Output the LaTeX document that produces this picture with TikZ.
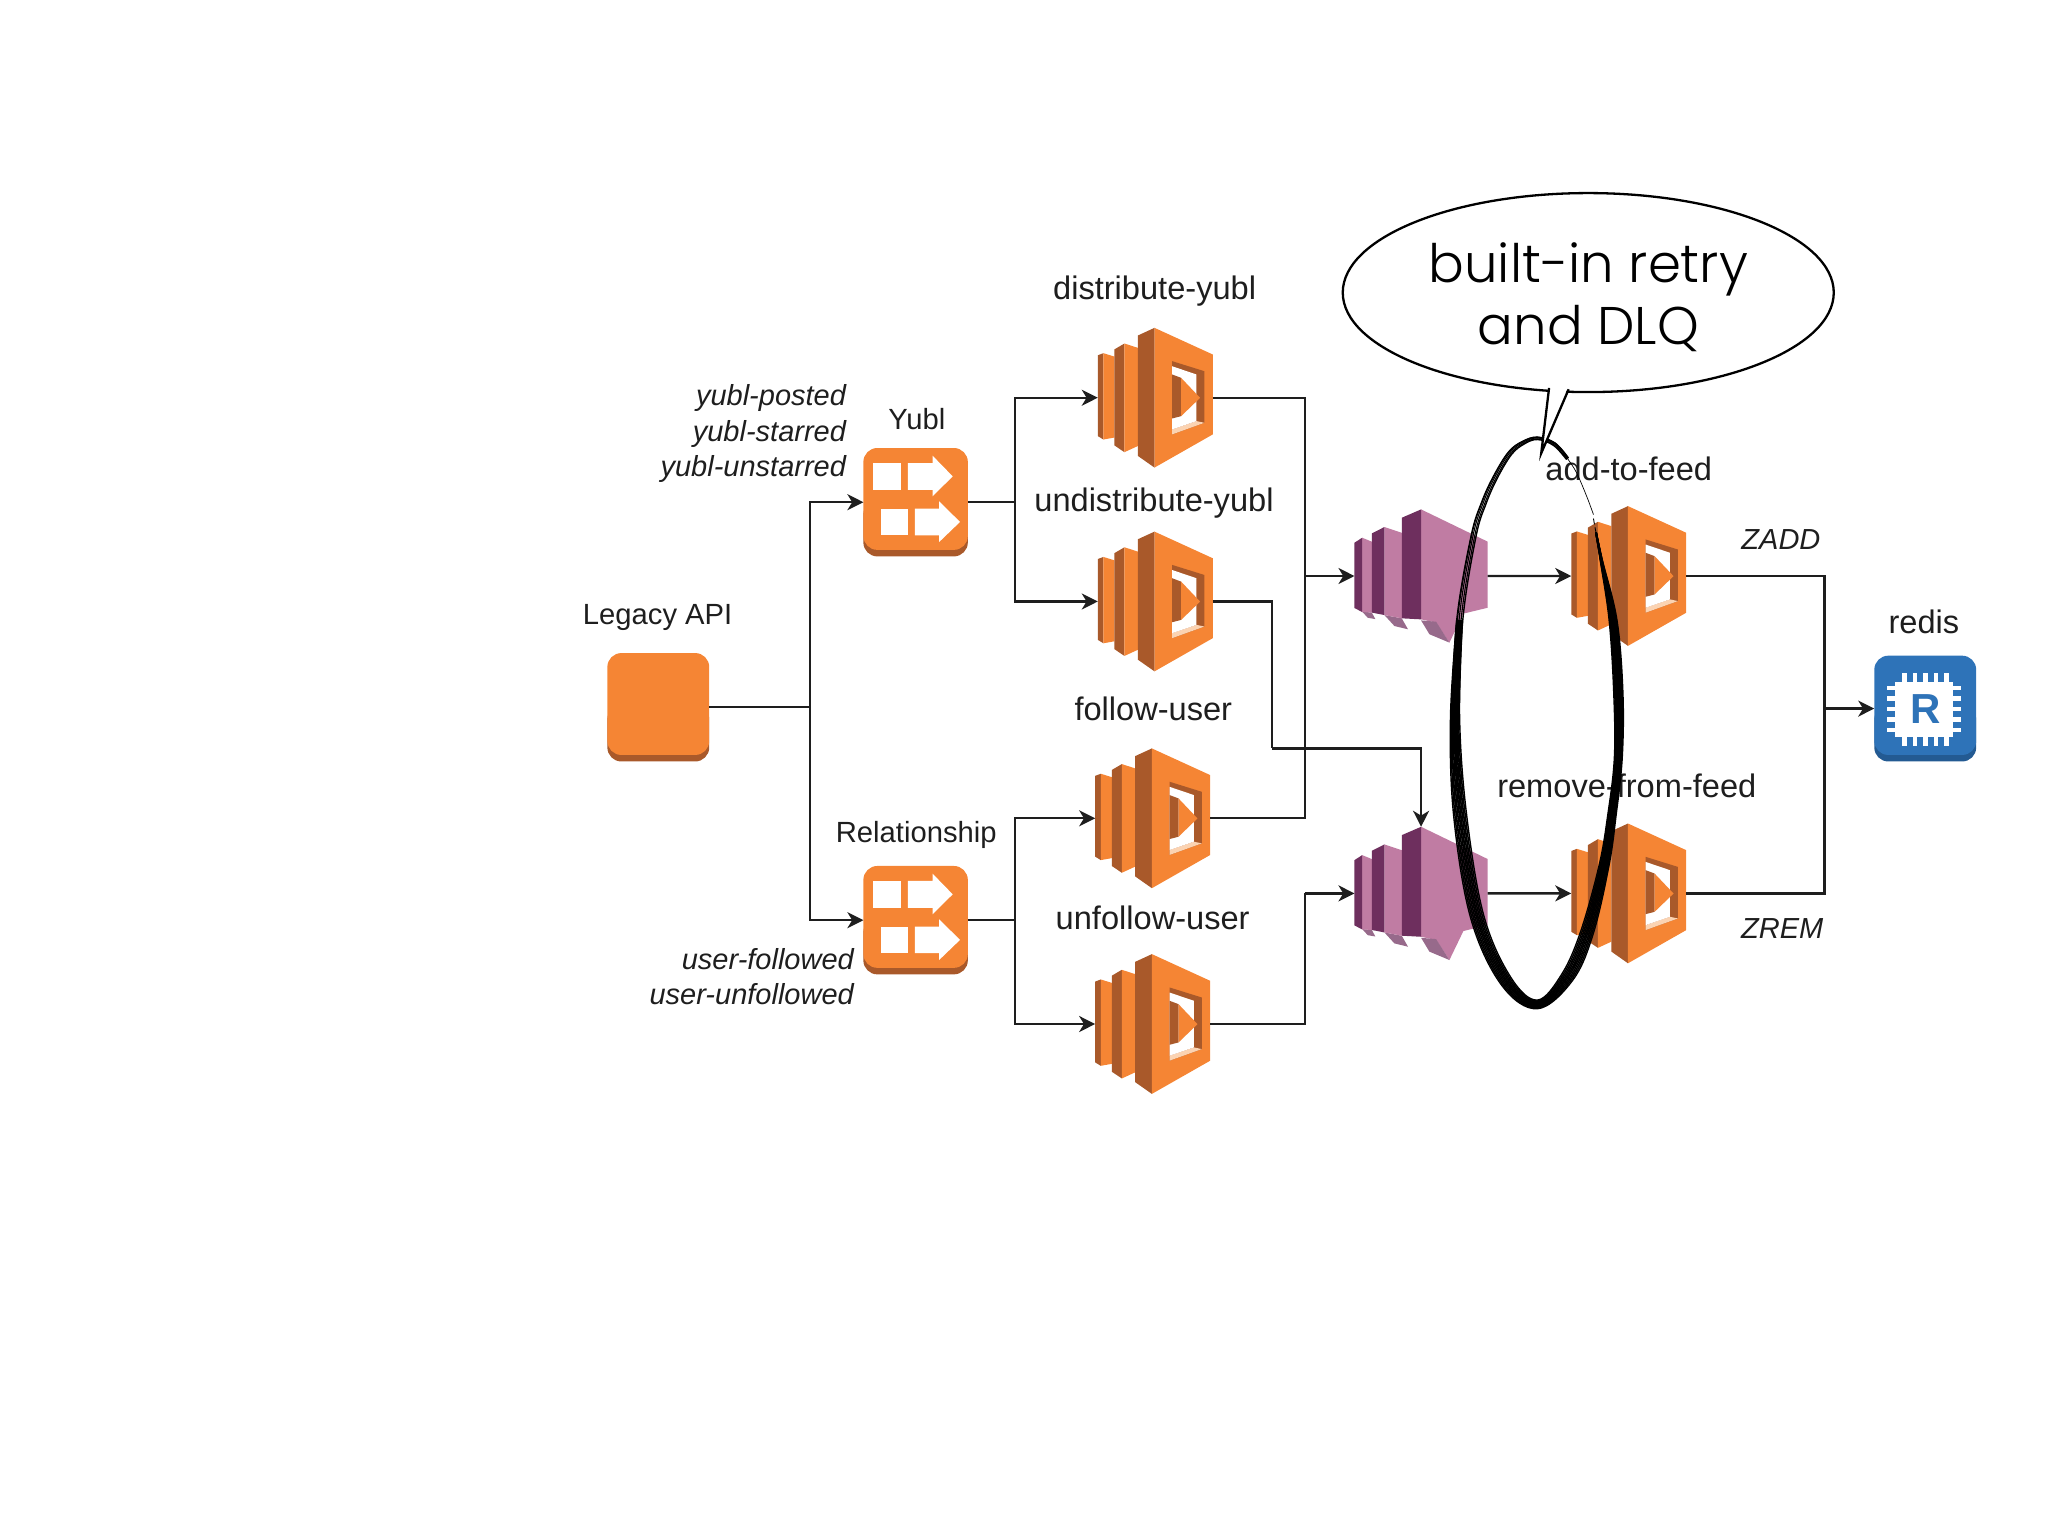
\documentclass[tikz,border=0pt]{standalone}
\usepackage{fontspec}
\setmainfont{Liberation Sans}
\newfontfamily\bubblefont{Poppins Light}
\usetikzlibrary{arrows.meta,shapes.geometric}
\definecolor{awsorange}{HTML}{F58534}
\definecolor{awsdark}{HTML}{A9592A}
\definecolor{awspeach}{HTML}{FBD3B2}
\definecolor{sqslight}{HTML}{C07CA3}
\definecolor{sqsdark}{HTML}{6E2F5E}
\definecolor{sqsshade}{HTML}{976A8B}
\definecolor{redisblue}{HTML}{2E73B8}
\definecolor{redisdark}{HTML}{235A92}
\definecolor{ink}{HTML}{1E1E1E}
\tikzset{
  conn/.style={draw=ink,line width=1.2pt},
  arrowed/.style={conn,-{Stealth[length=8pt,width=8pt,inset=2.4pt]}},
  lbl/.style={text=ink,font=\fontsize{16.3}{18}\selectfont,inner sep=0pt},
  slbl/.style={text=ink,font=\fontsize{14.6}{16}\selectfont,inner sep=0pt},
  ilbl/.style={text=ink,font=\fontsize{14.5}{17.6}\selectfont\itshape,inner sep=0pt,align=right},
  anchorbox/.style={inner sep=0pt,outer sep=0pt,minimum width=#1},
  org/.style={fill=awsorange},
  orgd/.style={fill=awsdark},
  white/.style={fill=white},
}
% name, left, top
\newcommand{\lambdaicon}[3]{%
\begin{scope}[shift={(#2,#3)}]
  \fill[orgd] (0,21) -- (4.3,19.4) -- (4.3,85.5) -- (0,82.9) -- cycle;
  \fill[org] (4.3,19.4) -- (12.7,22) -- (12.7,84) -- (4.3,85.5) -- cycle;
  \fill[orgd] (12.7,16.5) -- (20.4,12) -- (20.4,95.2) -- (12.7,90) -- cycle;
  \fill[org] (20.4,12) -- (30.6,15.3) -- (30.6,90.5) -- (20.4,95.2) -- cycle;
  \fill[orgd] (30.6,5.9) -- (43.4,0) -- (43.4,107) -- (30.6,98) -- cycle;
  \fill[org] (43.4,0) -- (88,20.4) -- (88,81.6) -- (43.4,107) -- cycle;
  \fill[orgd] (56.9,25.5) -- (81.6,33.2) -- (81.6,72.7) -- (56.9,81.6) -- cycle;
  \fill[awspeach] (56.9,77.8) -- (75.5,71.4) -- (81.6,72.7) -- (56.9,81.6) -- cycle;
  \fill[white] (56.9,29.4) -- (75.5,35.7) -- (75.5,71.4) -- (56.9,77.8) -- cycle;
  \fill[orgd] (56.9,35.7) -- (63.8,38.3) -- (63.8,67.6) -- (56.9,69.4) -- cycle;
  \fill[org] (63.8,38.3) -- (78.3,53.6) -- (63.8,67.6) -- cycle;
  \node[anchorbox=57.5pt,minimum height=70pt] (#1) at (44,53.5) {};
\end{scope}}
% name, left, top
\newcommand{\sqsicon}[3]{%
\begin{scope}[shift={(#2,#3)}]
  \fill[sqsshade] (5.9,78.3) -- (13.3,79) -- (16,84) -- (10.2,83) -- cycle;
  \fill[sqsshade] (22.9,80.9) -- (36.2,83.4) -- (41,91.8) -- (30.6,89.3) -- cycle;
  \fill[sqslight] (5.9,21.7) -- (13.3,24.7) -- (13.3,79) -- (5.9,78.6) -- cycle;
  \fill[sqsdark] (0,25.5) -- (5.9,21.7) -- (5.9,78.6) -- (0,75.5) -- cycle;
  \fill[sqslight] (22.9,13.5) -- (36.2,17.9) -- (36.2,83.4) -- (22.9,80.9) -- cycle;
  \fill[sqsdark] (13.3,18.4) -- (22.9,13.5) -- (22.9,80.9) -- (13.3,79) -- cycle;
  \fill[sqslight] (51,0) -- (102,24.7) -- (102,75.3) -- (83.4,79.8) -- (72.7,102) -- (62.5,86.7) -- (51,84.2) -- cycle;
  \fill[sqsdark] (36.2,6.4) -- (51,0) -- (51,84.2) -- (36.2,83.4) -- cycle;
  \fill[sqsshade] (51,85) -- (62.5,86) -- (72.7,102) -- (57.4,95.6) -- cycle;
  \node[anchorbox=66.6pt,minimum height=66.6pt] (#1) at (51,51) {};
\end{scope}}
% name, left, top
\newcommand{\snsicon}[3]{%
\begin{scope}[shift={(#2,#3)}]
  \fill[orgd,rounded corners=7pt] (0,40) rectangle (80,83);
  \fill[org,rounded corners=7pt] (0,0) rectangle (80,78);
  \fill[white] (7.6,11.5) rectangle (28.8,32);
  \fill[white] (34,11.5) -- (53,11.5) -- (53,5.9) -- (68.4,21.7) -- (53,37) -- (53,32) -- (34,32) -- cycle;
  \fill[white] (13.5,46.4) rectangle (34,66.8);
  \fill[white] (39.5,46.4) -- (58,46.4) -- (58,40.8) -- (74,56.6) -- (58,72) -- (58,66.8) -- (39.5,66.8) -- cycle;
  \node[anchorbox=52.2pt,minimum height=54.2pt] (#1) at (40,41.5) {};
\end{scope}}
\begin{document}
\begin{tikzpicture}[x=0.65306pt,y=-0.65306pt]
\useasboundingbox (0,0) rectangle (1568,1176);

% Legacy API
\fill[orgd,rounded corners=7pt] (465,540) rectangle (543,583);
\fill[org,rounded corners=7pt] (465,500) rectangle (543,578);
\node[anchorbox=50.9pt,minimum height=54.2pt] (legacy) at (504,541.5) {};
\node[slbl] (legacyl) at (503.5,473) {Legacy API};

\snsicon{yubl}{661}{343}
\snsicon{rel}{661}{663}
\node[slbl] (yubll) at (702,321) {Yubl};
\node[slbl] (rell) at (701.5,639.5) {Relationship};
\node[ilbl,anchor=east] (yublev) at (648,332) {yubl-posted\\yubl-starred\\yubl-unstarred};
\node[ilbl,anchor=east] (relev) at (654,747.5) {user-followed\\user-unfollowed};

\lambdaicon{dist}{840.5}{251}
\lambdaicon{undist}{840.5}{407}
\lambdaicon{foll}{838.5}{573}
\lambdaicon{unfoll}{838.5}{730.5}
\lambdaicon{add}{1203}{387.5}
\lambdaicon{rem}{1203}{630.5}
\node[lbl] (distl) at (884,223) {distribute-yubl};
\node[lbl] (undistl) at (883.5,385.5) {undistribute-yubl};
\node[lbl] (folll) at (883,543) {follow-user};
\node[lbl] (unfolll) at (882.5,703) {unfollow-user};
\node[lbl] (addl) at (1247,359) {add-to-feed};
\node[lbl] (reml) at (1245.5,602) {remove-from-feed};
\node[ilbl] (zadd) at (1363.5,413) {ZADD};
\node[ilbl] (zrem) at (1364.5,711) {ZREM};

\sqsicon{sqsa}{1037}{390}
\sqsicon{sqsb}{1037}{633}

% redis
\fill[redisdark,rounded corners=7pt] (1435,540) rectangle (1513,583);
\fill[redisblue,rounded corners=7pt] (1435,502) rectangle (1513,578);
\begin{scope}[shift={(1435,502)}]
  \fill[white] (16,20) rectangle (60,62);
  \foreach \k in {0,1,2,3,4} {
    \fill[white] (21.5+\k*8,13) rectangle (25+\k*8,20);
    \fill[white] (21.5+\k*8,62) rectangle (25+\k*8,69);
    \fill[white] (9.5,23+\k*8) rectangle (16,26.5+\k*8);
    \fill[white] (60,23+\k*8) rectangle (66.5,26.5+\k*8);
  }
\end{scope}
\node[inner sep=0pt,text=redisblue,font=\fontsize{21}{21}\selectfont\bfseries] (redis) at (1474,542.5) {R};
\node[slbl,font=\fontsize{16.3}{18}\selectfont] (redisl) at (1473,476) {redis};
\node[anchorbox=51pt,minimum height=53pt] (redisbox) at (1474,542.5) {};

% connectors
\coordinate (busL) at (620,541.5);
\coordinate (busY) at (777,384.5);
\coordinate (busB) at (777,704.5);
\coordinate (busA) at (999,441);
\coordinate (turn) at (974,573);
\coordinate (busC) at (999,684);
\coordinate (busR) at (1397,542.5);
\draw[conn] (legacy.east) -- (busL);
\draw[arrowed] (busL) |- (yubl.west);
\draw[arrowed] (busL) |- (rel.west);
\draw[conn] (yubl.east) -- (busY);
\draw[arrowed] (busY) |- (dist.west);
\draw[arrowed] (busY) |- (undist.west);
\draw[conn] (rel.east) -- (busB);
\draw[arrowed] (busB) |- (foll.west);
\draw[arrowed] (busB) |- (unfoll.west);
\draw[conn] (dist.east) -| (busA);
\draw[conn] (foll.east) -| (busA);
\draw[arrowed] (busA) -- (sqsa.west);
\draw[conn] (undist.east) -| (turn);
\draw[arrowed] (turn) -| (sqsb.north);
\draw[conn] (unfoll.east) -| (busC);
\draw[arrowed] (busC) -- (sqsb.west);
\draw[arrowed] (sqsa.east) -- (add.west);
\draw[arrowed] (sqsb.east) -- (rem.west);
\draw[conn] (add.east) -| (busR);
\draw[conn] (rem.east) -| (busR);
\draw[arrowed] (busR) -- (redisbox.west);

% hand-drawn loop: heavy lower strokes
\foreach \k/\w in {-1/.7,-.78/.75,-.55/.85,-.33/.8,-.1/.9,.12/.85,.35/.8,.58/.85,.8/.75,1/.7} {
  \draw[black,line width=\w pt,line cap=round]
    plot[smooth,tension=.6] coordinates {
      ({1222+\k*.2},408) ({1226+\k*.8},429) ({1235+\k*3},475) ({1239+\k*3.5},530) ({1239+\k*3},580)
      ({1234+\k*3.2},625) ({1228+\k*3.8},663) ({1215+\k*4.6},{714+\k*1.5}) ({1200+\k*4},{748+\k*2.6})
      (1177,{769+\k*3.3}) ({1153-\k*3.5},{751+\k*3}) ({1131-\k*5},{702+\k*1}) ({1118-\k*5},625)
      ({1114-\k*3.5},550) ({1117.5-\k*2.2},475)};
}
% lighter upper strokes
\foreach \k/\w in {-1/.7,-.45/.55,.2/.55,.75/.6,1/.5} {
  \draw[black,line width=\w pt,line cap=round]
    plot[smooth,tension=.6] coordinates {
      ({1114-\k*3},550) ({1117.5-\k*2.4},475) ({1128-\k*2},411) ({1136-\k*1.8},{385-\k*.5}) ({1145-\k*1.5},{365-\k*.8})
      ({1156-\k*1.2},{347-\k*1}) ({1166-\k*.8},{339-\k*1}) ({1177},{335.5-\k*1}) ({1190+\k*.6},{340-\k*1}) ({1200+\k*.8},{351-\k*.6})};
}
\draw[black,line width=.35pt] plot[smooth,tension=.6] coordinates {(1197,347) (1206,360) (1214,378) (1220,394)};
\draw[black,line width=.45pt,dash pattern=on 3pt off 1.5pt] plot[smooth,tension=.6] coordinates {(1220,397) (1222,408) (1226,425)};

% speech bubble
\node[ellipse,draw=black,fill=white,line width=1.15pt,inner sep=0pt,minimum width=245.5pt,minimum height=99.5pt] (bubble) at (1216,224) {};
\fill[white] (1186,295) -- (1180,347) -- (1201,295) -- cycle;
\draw[black,line width=1.15pt,line join=miter] (1186,297) -- (1180,347) -- (1201,298);
\node[inner sep=0pt,align=center,text=black,font=\fontsize{26.5}{30.7}\selectfont\bubblefont] (bubblet) at (1216,227.5) {built-in retry\\and DLQ};
\end{tikzpicture}
\end{document}
